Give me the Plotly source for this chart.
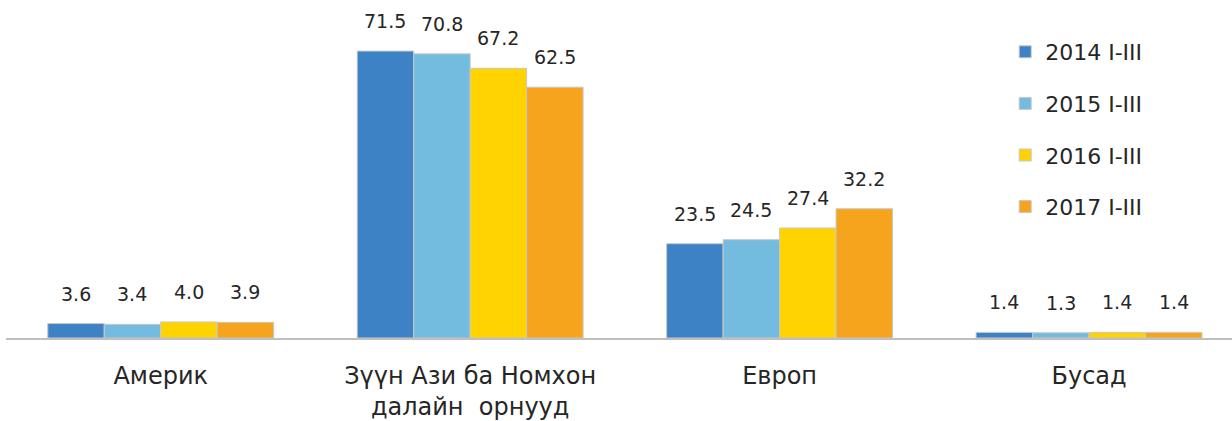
import plotly.graph_objects as go

categories = ["Америк", "Зүүн Ази ба Номхон<br>далайн  орнууд", "Европ", "Бусад"]
series_names = ["2014 I-III", "2015 I-III", "2016 I-III", "2017 I-III"]
v2014 = [3.6, 71.5, 23.5, 1.4]
v2015 = [3.4, 70.8, 24.5, 1.3]
v2016 = [4.0, 67.2, 27.4, 1.4]
v2017 = [3.9, 62.5, 32.2, 1.4]
colors = ["#3E82C6", "#74BCDF", "#FFD300", "#F6A31E"]

bargap = 0.27
bar_w = (1 - bargap) / len(series_names)

fig = go.Figure()
annotations = []
for i, (name, vals) in enumerate(zip(series_names, [v2014, v2015, v2016, v2017])):
    fig.add_trace(go.Bar(
        x=categories, y=vals, name=name, legendgroup=name,
        marker=dict(color=colors[i], line=dict(color="#C8C8C8", width=1)),
    ))
    # value labels sit well above the bars, so use annotations
    for j, v in enumerate(vals):
        annotations.append(dict(
            x=j + (i - 1.5) * bar_w, y=v, xref="x", yref="y",
            text=f"{v:.1f}", showarrow=False, yanchor="bottom", yshift=17,
            font=dict(size=19, color="#262626"),
        ))

fig.update_layout(
    width=1232, height=421,
    margin=dict(l=6, r=0, t=31, b=83, autoexpand=False),
    paper_bgcolor="white", plot_bgcolor="white",
    font=dict(family="DejaVu Sans, sans-serif", color="#262626"),
    barmode="group", bargap=bargap, bargroupgap=0,
    showlegend=True,
    legend=dict(x=0.815, y=1.0, xanchor="left", yanchor="top",
                font=dict(size=22), tracegroupgap=20,
                itemwidth=30, bgcolor="rgba(0,0,0,0)"),
    annotations=annotations,
)
fig.update_xaxes(type="category", range=[-0.5, 3.462], automargin=False,
                 showline=True, linecolor="#BFBFBF", linewidth=2,
                 ticks="", tickfont=dict(size=24, color="#262626"),
                 ticklabelstandoff=15)
fig.update_yaxes(range=[0, 76.5], visible=False, showgrid=False, zeroline=False,
                 automargin=False)

fig.write_html("out.html", config={"displayModeBar": False},
               post_script="document.body.style.margin='0';")
